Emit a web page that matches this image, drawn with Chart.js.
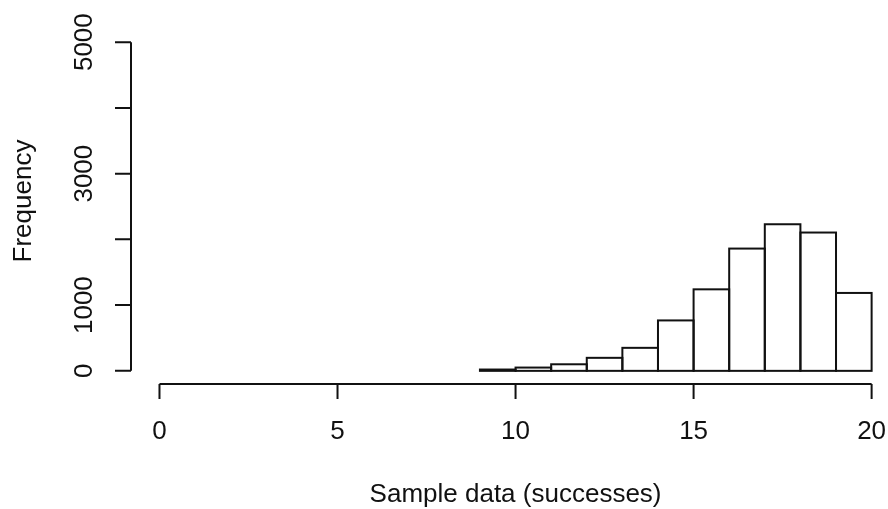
<!DOCTYPE html>
<html>
<head>
<meta charset="utf-8">
<script src="https://cdn.jsdelivr.net/npm/chart.js@4.4.0/dist/chart.umd.min.js"></script>
<style>
  body { margin: 0; background: #fff; }
  canvas { display: block; }
</style>
</head>
<body>
<canvas id="histChart" width="888" height="509"></canvas>
<script>
// histogram bins (left edges, width 1) and counts
const binStarts = [9, 10, 11, 12, 13, 14, 15, 16, 17, 18, 19];
const counts = [20, 50, 100, 198, 350, 767, 1240, 1860, 2230, 2104, 1185];

const xTicks = [0, 5, 10, 15, 20];
const yTicks = [0, 1000, 2000, 3000, 4000, 5000];
const yTickLabels = ['0', '1000', '', '3000', '', '5000'];

const xTitle = 'Sample data (successes)';
const yTitle = 'Frequency';

const FONT = '26px "Liberation Sans", Arial, sans-serif';
const INK = '#111';

// outline bars with strokes centred on the bin edges (like R's rect)
const barOutline = {
  id: 'barOutline',
  afterDatasetsDraw(chart) {
    const c = chart.ctx;
    c.save();
    c.strokeStyle = INK;
    c.lineWidth = 2;
    chart.getDatasetMeta(0).data.forEach(bar => {
      const l = bar.x - bar.width / 2;
      c.strokeRect(l, bar.y, bar.width, bar.base - bar.y);
    });
    c.restore();
  }
};

// R-style detached axes drawn with the chart's own scales
const rAxes = {
  id: 'rAxes',
  afterDraw(chart) {
    const c = chart.ctx;
    const xs = chart.scales.x;
    const ys = chart.scales.y;
    const area = chart.chartArea;
    c.save();
    c.strokeStyle = INK;
    c.fillStyle = INK;
    c.lineWidth = 2;
    c.font = FONT;

    // y axis
    const ax = area.left;
    c.beginPath();
    c.moveTo(ax, ys.getPixelForValue(yTicks[0]));
    c.lineTo(ax, ys.getPixelForValue(yTicks[yTicks.length - 1]));
    yTicks.forEach(v => {
      const py = ys.getPixelForValue(v);
      c.moveTo(ax, py);
      c.lineTo(ax - 16, py);
    });
    c.stroke();
    c.textAlign = 'center';
    c.textBaseline = 'alphabetic';
    yTicks.forEach((v, i) => {
      if (!yTickLabels[i]) return;
      c.save();
      c.translate(92, ys.getPixelForValue(v));
      c.rotate(-Math.PI / 2);
      c.fillText(yTickLabels[i], 0, 0);
      c.restore();
    });

    // x axis
    const ay = area.bottom;
    c.beginPath();
    c.moveTo(xs.getPixelForValue(xTicks[0]), ay);
    c.lineTo(xs.getPixelForValue(xTicks[xTicks.length - 1]), ay);
    xTicks.forEach(v => {
      const px = xs.getPixelForValue(v);
      c.moveTo(px, ay);
      c.lineTo(px, ay + 15);
    });
    c.stroke();
    xTicks.forEach(v => {
      c.fillText(String(v), xs.getPixelForValue(v), 439);
    });

    // titles
    c.fillText(xTitle, (xs.getPixelForValue(0) + xs.getPixelForValue(20)) / 2, 502);
    c.save();
    c.translate(31, 201);
    c.rotate(-Math.PI / 2);
    c.fillText(yTitle, 0, 0);
    c.restore();
    c.restore();
  }
};

const ctx = document.getElementById('histChart');
new Chart(ctx, {
  type: 'bar',
  data: {
    datasets: [{
      data: binStarts.map((s, i) => ({ x: s + 0.5, y: counts[i] })),
      backgroundColor: '#ffffff',
      borderWidth: 0,
      barPercentage: 1,
      categoryPercentage: 1
    }]
  },
  options: {
    responsive: false,
    animation: false,
    layout: { padding: { left: 131, right: 0, top: 29, bottom: 125 } },
    scales: {
      x: { type: 'linear', offset: false, min: -0.8, max: 20.46, display: false },
      y: { min: -200, max: 5200, display: false }
    },
    plugins: {
      legend: { display: false },
      tooltip: { enabled: false }
    }
  },
  plugins: [barOutline, rAxes]
});
</script>
</body>
</html>
